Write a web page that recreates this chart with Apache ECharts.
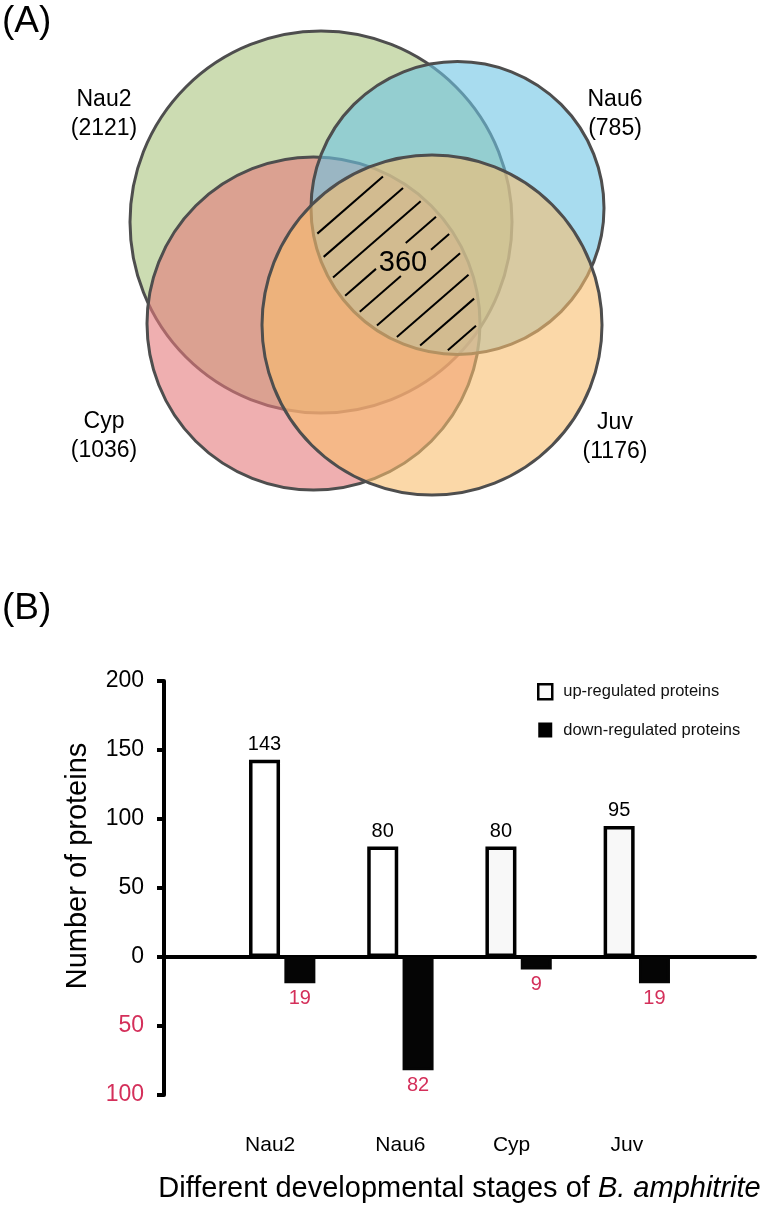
<!DOCTYPE html>
<html>
<head>
<meta charset="utf-8">
<script src="https://cdn.jsdelivr.net/npm/echarts@6/dist/echarts.min.js"></script>
<style>
html,body{margin:0;padding:0;background:#fff;}
#chart{width:777px;height:1207px;}
</style>
</head>
<body>
<div id="chart"></div>
<script>
// ---------------- data ----------------
const vennSets = ['Nau2', 'Nau6', 'Cyp', 'Juv'];
const vennCounts = [2121, 785, 1036, 1176];
const sharedCount = 360;

const stages = ['Nau2', 'Nau6', 'Cyp', 'Juv'];
const upRegulated = [143, 80, 80, 95];
const downRegulated = [19, 82, 9, 19];
const yTickValues = [-100, -50, 0, 50, 100, 150, 200];
const seriesNames = ['up-regulated proteins', 'down-regulated proteins'];
const xTitle = 'Different developmental stages of {i|B. amphitrite}';
const yTitle = 'Number of proteins';

// ---------------- layout & style ----------------
const FONT = '"Liberation Sans", Arial, Helvetica, sans-serif';
const RED = '#d42f5a';

// Venn geometry in the hidden coordinate system of panel A
const vennGeom = {
  Nau2: { cx: 321, cy: 222, r: 191, fill: 'rgba(170,197,127,0.6)', label: [104, 114] },
  Nau6: { cx: 457.5, cy: 208, r: 146.5, fill: 'rgba(110,197,228,0.6)', label: [615, 114] },
  Cyp:  { cx: 313.5, cy: 323.5, r: 166.5, fill: 'rgba(228,122,123,0.6)', label: [104, 436] },
  Juv:  { cx: 432, cy: 325, r: 170, fill: 'rgba(248,190,110,0.6)', label: [615, 437] }
};
const drawOrder = ['Nau2', 'Cyp', 'Nau6', 'Juv'];
const sharedLabelPos = [403, 263];
const hatch = { angle: 41, spacing: 21.7, phase: 384.5, inset: 4, minLen: 16, box: [-27, -20, 28, 13] };

const labelShift = { Nau2: -12, Nau6: 0, Cyp: -7, Juv: -10 };
const upFill = ['#ffffff', '#ffffff', '#f8f8f8', '#f8f8f8'];

// ---------------- series helpers ----------------
function renderCircle(params, api) {
  const name = drawOrder[params.dataIndex];
  const g = vennGeom[name];
  const c = api.coord([api.value(0), api.value(1)]);
  const r = api.size([api.value(2), 0])[0];
  const lp = api.coord(g.label);
  const idx = vennSets.indexOf(name);
  return {
    type: 'group',
    children: [
      { type: 'circle', shape: { cx: c[0], cy: c[1], r: r },
        style: { fill: g.fill, stroke: '#4e4e4e', lineWidth: 3 } },
      { type: 'text', z2: 10,
        style: { text: name + '\n(' + vennCounts[idx] + ')', x: lp[0], y: lp[1],
          align: 'center', verticalAlign: 'middle', fill: '#000',
          fontSize: 23, fontFamily: FONT, lineHeight: 29 } }
    ]
  };
}

function renderHatch(params, api) {
  const circles = vennSets.map(function (n) {
    const g = vennGeom[n];
    const c = api.coord([g.cx, g.cy]);
    return { x: c[0], y: c[1], r: api.size([g.r, 0])[0] - hatch.inset };
  });
  const a = hatch.angle * Math.PI / 180;
  const d = [Math.cos(a), -Math.sin(a)];
  const nv = [Math.sin(a), Math.cos(a)];
  const tc = api.coord(sharedLabelPos);
  const bx0 = tc[0] + hatch.box[0], by0 = tc[1] + hatch.box[1];
  const bx1 = tc[0] + hatch.box[2], by1 = tc[1] + hatch.box[3];
  const children = [];
  for (let k = -40; k <= 40; k++) {
    const cv = hatch.phase + k * hatch.spacing;
    const p0 = [nv[0] * cv, nv[1] * cv];
    let tmin = -Infinity, tmax = Infinity, ok = true;
    for (const C of circles) {
      const ox = p0[0] - C.x, oy = p0[1] - C.y;
      const b = d[0] * ox + d[1] * oy;
      const cc = ox * ox + oy * oy - C.r * C.r;
      const disc = b * b - cc;
      if (disc <= 0) { ok = false; break; }
      const s = Math.sqrt(disc);
      tmin = Math.max(tmin, -b - s);
      tmax = Math.min(tmax, -b + s);
    }
    if (!ok || tmax <= tmin) continue;
    let segs = [[tmin, tmax]];
    let u0 = -Infinity, u1 = Infinity, inside = true;
    const pq = [[-d[0], p0[0] - bx0], [d[0], bx1 - p0[0]], [-d[1], p0[1] - by0], [d[1], by1 - p0[1]]];
    for (const [p, q] of pq) {
      if (Math.abs(p) < 1e-9) { if (q < 0) { inside = false; break; } }
      else { const t = q / p; if (p < 0) u0 = Math.max(u0, t); else u1 = Math.min(u1, t); }
    }
    if (inside && u0 < u1 && u1 > tmin && u0 < tmax) {
      segs = [];
      if (u0 > tmin) segs.push([tmin, u0]);
      if (u1 < tmax) segs.push([u1, tmax]);
    }
    for (const sg of segs) {
      if (sg[1] - sg[0] < hatch.minLen) continue;
      children.push({ type: 'line',
        shape: { x1: p0[0] + sg[0] * d[0], y1: p0[1] + sg[0] * d[1],
                 x2: p0[0] + sg[1] * d[0], y2: p0[1] + sg[1] * d[1] },
        style: { stroke: '#000', lineWidth: 2 } });
    }
  }
  children.push({ type: 'text',
    style: { text: String(api.value(0)), x: tc[0], y: tc[1], align: 'center', verticalAlign: 'middle',
      fill: '#000', fontSize: 29, fontFamily: FONT } });
  return { type: 'group', children: children };
}

// ---------------- option ----------------
const padCats = [''].concat(stages, ['']);
const upData = ['-'].concat(upRegulated, ['-']);
const downData = ['-'].concat(downRegulated.map(function (v) { return -v; }), ['-']);

const rich = {};
stages.forEach(function (s, i) {
  const sh = labelShift[s];
  rich['s' + i] = { fontSize: 21, fontFamily: FONT, color: '#000',
    padding: sh < 0 ? [0, -2 * sh, 0, 0] : [0, 0, 0, 2 * sh] };
});

const panelTitle = { fontSize: 37, fontWeight: 'normal', fontFamily: FONT, color: '#000' };

const option = {
  animation: false,
  backgroundColor: '#ffffff',
  title: [
    { text: '(A)', left: 2, top: 3, padding: 0, textStyle: panelTitle },
    { text: '(B)', left: 2, top: 590, padding: 0, textStyle: panelTitle }
  ],
  legend: {
    orient: 'vertical', left: 537, top: 683, padding: 0, itemWidth: 14, itemHeight: 15, itemGap: 21,
    selectedMode: false,
    textStyle: { fontSize: 16.5, fontFamily: FONT, color: '#111', padding: [2, 0, 0, 6] },
    data: [
      { name: seriesNames[0], icon: 'rect', itemStyle: { color: '#fafafa', borderColor: '#000', borderWidth: 2.5 } },
      { name: seriesNames[1], icon: 'rect', itemStyle: { color: '#000', borderColor: '#000', borderWidth: 0 } }
    ]
  },
  grid: [
    { left: 0, top: 0, width: 777, height: 560, outerBoundsMode: 'none' },
    { left: 164, right: 22, top: 681, bottom: 112, outerBoundsMode: 'none' }
  ],
  xAxis: [
    { type: 'value', gridIndex: 0, min: 0, max: 777, show: false },
    { type: 'category', gridIndex: 1, data: padCats, boundaryGap: false,
      axisLine: { onZero: true, lineStyle: { color: '#000', width: 4 } },
      axisTick: { show: false }, axisLabel: { show: false }, splitLine: { show: false } },
    { type: 'category', gridIndex: 1, data: padCats, boundaryGap: false, position: 'bottom',
      axisLine: { show: false, onZero: false }, axisTick: { show: false }, splitLine: { show: false },
      axisLabel: { interval: 0, margin: 40, fontSize: 21, fontFamily: FONT, color: '#000',
        formatter: function (v) { const i = stages.indexOf(v); return i < 0 ? '' : '{s' + i + '|' + v + '}'; },
        rich: rich },
      name: xTitle, nameLocation: 'middle', nameGap: 79,
      nameTextStyle: { fontSize: 29, fontFamily: FONT, color: '#000',
        rich: { i: { fontSize: 29, fontFamily: FONT, color: '#000', fontStyle: 'italic' } } } }
  ],
  yAxis: [
    { type: 'value', gridIndex: 0, min: 0, max: 560, inverse: true, show: false },
    { type: 'value', gridIndex: 1, min: yTickValues[0], max: yTickValues[yTickValues.length - 1],
      interval: yTickValues[1] - yTickValues[0],
      axisLine: { show: true, lineStyle: { color: '#000', width: 4 } },
      axisTick: { show: true, length: 7, lineStyle: { color: '#000', width: 4 } },
      splitLine: { show: false },
      axisLabel: { margin: 20, fontSize: 23, fontFamily: FONT,
        formatter: function (v) { return String(Math.abs(v)); },
        color: function (v) { return Number(v) < 0 ? RED : '#000'; } },
      name: yTitle, nameLocation: 'middle', nameRotate: 90, nameGap: 72,
      nameTextStyle: { fontSize: 29, fontFamily: FONT, color: '#000', padding: [0, 0, 0, 44] } }
  ],
  series: [
    { type: 'custom', name: 'venn', coordinateSystem: 'cartesian2d', xAxisIndex: 0, yAxisIndex: 0,
      silent: true, clip: false, renderItem: renderCircle,
      data: drawOrder.map(function (n) {
        const g = vennGeom[n];
        return { name: n, value: [g.cx, g.cy, g.r, vennCounts[vennSets.indexOf(n)]] };
      }) },
    { type: 'custom', name: 'shared', coordinateSystem: 'cartesian2d', xAxisIndex: 0, yAxisIndex: 0,
      silent: true, clip: false, z: 3, renderItem: renderHatch,
      data: [{ value: [sharedCount] }] },
    { type: 'bar', name: seriesNames[0], xAxisIndex: 1, yAxisIndex: 1, data: upData,
      barWidth: 31, barGap: '14%',
      itemStyle: { color: function (p) { return upFill[p.dataIndex - 1] || '#fff'; }, borderColor: '#000', borderWidth: 3.5 },
      label: { show: true, position: 'top', distance: 5, fontSize: 20, fontFamily: FONT, color: '#000' } },
    { type: 'bar', name: seriesNames[1], xAxisIndex: 1, yAxisIndex: 1, data: downData,
      barWidth: 31,
      itemStyle: { color: '#050505', borderColor: '#050505', borderWidth: 3 },
      label: { show: true, position: 'bottom', distance: 5, fontSize: 20, fontFamily: FONT, color: RED,
        formatter: function (p) { return String(Math.abs(p.value)); } } }
  ]
};

const chart = echarts.init(document.getElementById('chart'), null, { renderer: 'canvas' });
chart.setOption(option);
</script>
</body>
</html>
